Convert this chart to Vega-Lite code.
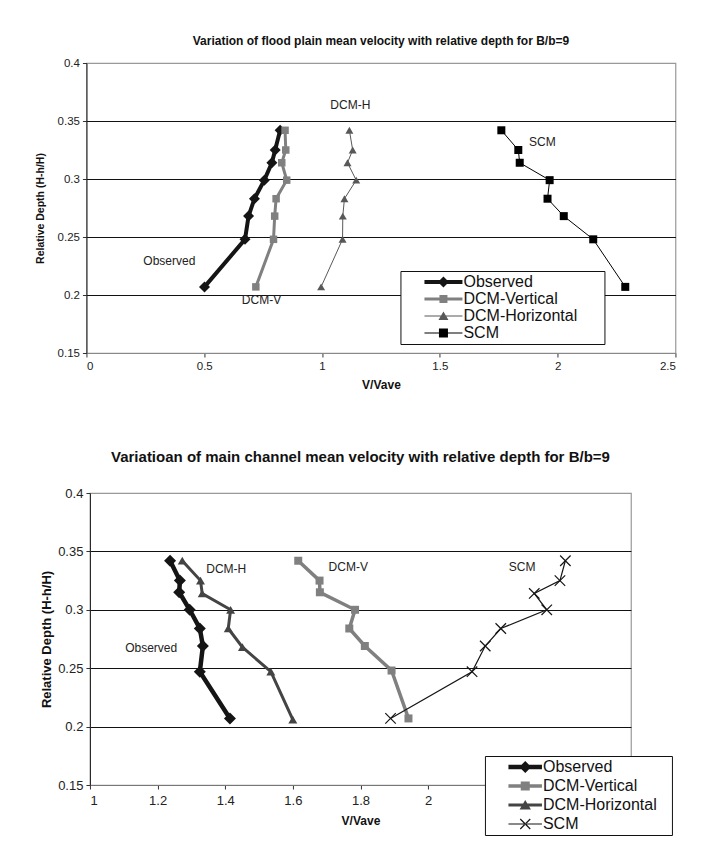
{
  "$schema": "https://vega.github.io/schema/vega-lite/v6.json",
  "padding": {"top": 34, "left": 34, "right": 5, "bottom": 5},
  "background": "white",
  "center": true,
  "spacing": 57,
  "resolve": {
    "scale": {"color": "independent", "fill": "independent", "stroke": "independent", "shape": "independent", "size": "independent", "strokeWidth": "independent"},
    "legend": {"color": "independent", "fill": "independent", "stroke": "independent", "shape": "independent", "size": "independent", "strokeWidth": "independent"}
  },
  "config": {
    "view": {"stroke": "#999999", "strokeWidth": 1.2},
    "axis": {"labelFont": "Liberation Sans", "titleFont": "Liberation Sans", "labelColor": "#222", "titleColor": "#111", "tickColor": "#333", "domainColor": "#333", "grid": false},
    "text": {"font": "Liberation Sans"}
  },
  "datasets": {
    "top": [
      {"series": "Observed", "v": 0.822, "d": 0.342},
      {"series": "Observed", "v": 0.801, "d": 0.325},
      {"series": "Observed", "v": 0.787, "d": 0.314},
      {"series": "Observed", "v": 0.755, "d": 0.299},
      {"series": "Observed", "v": 0.713, "d": 0.283},
      {"series": "Observed", "v": 0.688, "d": 0.268},
      {"series": "Observed", "v": 0.673, "d": 0.248},
      {"series": "Observed", "v": 0.501, "d": 0.207},
      {"series": "DCM-Vertical", "v": 0.843, "d": 0.342},
      {"series": "DCM-Vertical", "v": 0.846, "d": 0.325},
      {"series": "DCM-Vertical", "v": 0.829, "d": 0.314},
      {"series": "DCM-Vertical", "v": 0.850, "d": 0.299},
      {"series": "DCM-Vertical", "v": 0.805, "d": 0.283},
      {"series": "DCM-Vertical", "v": 0.799, "d": 0.268},
      {"series": "DCM-Vertical", "v": 0.794, "d": 0.248},
      {"series": "DCM-Vertical", "v": 0.719, "d": 0.207},
      {"series": "DCM-Horizontal", "v": 1.116, "d": 0.342},
      {"series": "DCM-Horizontal", "v": 1.130, "d": 0.325},
      {"series": "DCM-Horizontal", "v": 1.108, "d": 0.314},
      {"series": "DCM-Horizontal", "v": 1.145, "d": 0.299},
      {"series": "DCM-Horizontal", "v": 1.095, "d": 0.283},
      {"series": "DCM-Horizontal", "v": 1.088, "d": 0.268},
      {"series": "DCM-Horizontal", "v": 1.087, "d": 0.248},
      {"series": "DCM-Horizontal", "v": 0.996, "d": 0.207},
      {"series": "SCM", "v": 1.761, "d": 0.342},
      {"series": "SCM", "v": 1.833, "d": 0.325},
      {"series": "SCM", "v": 1.839, "d": 0.314},
      {"series": "SCM", "v": 1.966, "d": 0.299},
      {"series": "SCM", "v": 1.957, "d": 0.283},
      {"series": "SCM", "v": 2.026, "d": 0.268},
      {"series": "SCM", "v": 2.151, "d": 0.248},
      {"series": "SCM", "v": 2.287, "d": 0.207}
    ],
    "bottom": [
      {"series": "Observed", "v": 1.237, "d": 0.342},
      {"series": "Observed", "v": 1.266, "d": 0.325},
      {"series": "Observed", "v": 1.264, "d": 0.315},
      {"series": "Observed", "v": 1.295, "d": 0.300},
      {"series": "Observed", "v": 1.325, "d": 0.284},
      {"series": "Observed", "v": 1.334, "d": 0.269},
      {"series": "Observed", "v": 1.325, "d": 0.247},
      {"series": "Observed", "v": 1.414, "d": 0.207},
      {"series": "DCM-Vertical", "v": 1.616, "d": 0.342},
      {"series": "DCM-Vertical", "v": 1.679, "d": 0.325},
      {"series": "DCM-Vertical", "v": 1.680, "d": 0.315},
      {"series": "DCM-Vertical", "v": 1.784, "d": 0.300},
      {"series": "DCM-Vertical", "v": 1.767, "d": 0.284},
      {"series": "DCM-Vertical", "v": 1.813, "d": 0.269},
      {"series": "DCM-Vertical", "v": 1.892, "d": 0.248},
      {"series": "DCM-Vertical", "v": 1.942, "d": 0.207},
      {"series": "DCM-Horizontal", "v": 1.273, "d": 0.342},
      {"series": "DCM-Horizontal", "v": 1.327, "d": 0.325},
      {"series": "DCM-Horizontal", "v": 1.332, "d": 0.314},
      {"series": "DCM-Horizontal", "v": 1.416, "d": 0.300},
      {"series": "DCM-Horizontal", "v": 1.409, "d": 0.284},
      {"series": "DCM-Horizontal", "v": 1.451, "d": 0.268},
      {"series": "DCM-Horizontal", "v": 1.535, "d": 0.247},
      {"series": "DCM-Horizontal", "v": 1.600, "d": 0.206},
      {"series": "SCM", "v": 2.406, "d": 0.342},
      {"series": "SCM", "v": 2.390, "d": 0.325},
      {"series": "SCM", "v": 2.314, "d": 0.314},
      {"series": "SCM", "v": 2.351, "d": 0.300},
      {"series": "SCM", "v": 2.215, "d": 0.284},
      {"series": "SCM", "v": 2.169, "d": 0.269},
      {"series": "SCM", "v": 2.130, "d": 0.247},
      {"series": "SCM", "v": 1.889, "d": 0.207}
    ],
    "topNotes": [
      {"label": "DCM-H", "v": 1.12, "d": 0.364},
      {"label": "SCM", "v": 1.935, "d": 0.332},
      {"label": "Observed", "v": 0.352, "d": 0.229},
      {"label": "DCM-V", "v": 0.743, "d": 0.1954}
    ],
    "bottomNotes": [
      {"label": "DCM-H", "v": 1.403, "d": 0.335},
      {"label": "DCM-V", "v": 1.764, "d": 0.3365},
      {"label": "SCM", "v": 2.278, "d": 0.3365},
      {"label": "Observed", "v": 1.181, "d": 0.267}
    ]
  },
  "vconcat": [
    {
      "title": {"text": "Variation of flood plain mean velocity with relative depth for B/b=9", "font": "Liberation Sans", "fontSize": 12, "fontWeight": "bold", "color": "#111", "offset": 9, "anchor": "middle"},
      "width": 589,
      "height": 290,
      "resolve": {"scale": {"stroke": "independent", "strokeWidth": "independent"}, "legend": {"stroke": "independent", "strokeWidth": "independent"}},
      "layer": [
        {
          "data": {"name": "top"},
          "mark": {"type": "line", "strokeJoin": "miter"},
          "encoding": {
            "x": {"field": "v", "type": "quantitative", "scale": {"domain": [0, 2.5], "nice": false, "zero": false},
                  "axis": {"title": "V/Vave", "values": [0, 0.5, 1, 1.5, 2, 2.5], "format": "~g", "labelFontSize": 11.5, "titleFontSize": 12, "titleFontWeight": "bold", "tickSize": 4, "labelPadding": 3, "titlePadding": 8, "domainColor": "#888"}},
            "y": {"field": "d", "type": "quantitative", "scale": {"domain": [0.15, 0.4], "nice": false, "zero": false},
                  "axis": {"title": "Relative Depth (H-h/H)", "values": [0.15, 0.2, 0.25, 0.3, 0.35, 0.4], "format": ".2~f", "labelFontSize": 11.5, "titleFontSize": 10.5, "titleFontWeight": "bold", "tickSize": 4, "labelPadding": 3, "titlePadding": 12, "domainColor": "#222",
                           "grid": true, "gridColor": {"condition": {"test": "datum.value < 0.16 || datum.value > 0.39", "value": "transparent"}, "value": "#111"}, "gridOpacity": 1}},
            "order": {"field": "d", "type": "quantitative"},
            "stroke": {"field": "series", "type": "nominal", "scale": {"domain": ["Observed", "DCM-Vertical", "DCM-Horizontal", "SCM"], "range": ["#151515", "#808080", "#585858", "#000000"]}, "legend": null},
            "strokeWidth": {"field": "series", "type": "nominal", "scale": {"type": "ordinal", "domain": ["Observed", "DCM-Vertical", "DCM-Horizontal", "SCM"], "range": [4, 3, 1, 1]}, "legend": null}
          }
        },
        {
          "data": {"name": "top"},
          "transform": [{"filter": "datum.series === 'Observed'"}],
          "mark": {"type": "point", "shape": "diamond", "filled": true, "opacity": 1, "color": "#151515", "size": 121},
          "encoding": {"x": {"field": "v", "type": "quantitative"}, "y": {"field": "d", "type": "quantitative"}}
        },
        {
          "data": {"name": "top"},
          "transform": [{"filter": "datum.series === 'DCM-Vertical'"}],
          "mark": {"type": "point", "shape": "square", "filled": true, "opacity": 1, "color": "#808080", "size": 56},
          "encoding": {"x": {"field": "v", "type": "quantitative"}, "y": {"field": "d", "type": "quantitative"}}
        },
        {
          "data": {"name": "top"},
          "transform": [{"filter": "datum.series === 'DCM-Horizontal'"}],
          "mark": {"type": "point", "shape": "triangle-up", "filled": true, "opacity": 1, "color": "#585858", "size": 64},
          "encoding": {"x": {"field": "v", "type": "quantitative"}, "y": {"field": "d", "type": "quantitative"}}
        },
        {
          "data": {"name": "top"},
          "transform": [{"filter": "datum.series === 'SCM'"}],
          "mark": {"type": "point", "shape": "square", "filled": true, "opacity": 1, "color": "#000000", "size": 64},
          "encoding": {"x": {"field": "v", "type": "quantitative"}, "y": {"field": "d", "type": "quantitative"}}
        },
        {
          "data": {"name": "top"},
          "mark": {"type": "point", "filled": true, "opacity": 1, "size": 0, "strokeWidth": 0},
          "encoding": {
            "x": {"field": "v", "type": "quantitative"},
            "y": {"field": "d", "type": "quantitative"},
            "color": {"field": "series", "type": "nominal", "scale": {"domain": ["Observed", "DCM-Vertical", "DCM-Horizontal", "SCM"], "range": ["#151515", "#808080", "#585858", "#000000"]},
                      "legend": {"title": null, "orient": "none", "legendX": 314, "legendY": 208, "strokeColor": "#111", "fillColor": "white", "padding": 3, "rowPadding": 1, "labelFont": "Liberation Sans", "labelFontSize": 16, "labelColor": "#111", "labelOffset": 44, "labelExpr": "datum.label + '\u2800\u2800'", "symbolSize": 100, "symbolOpacity": 1, "symbolStrokeWidth": 0}},
            "shape": {"field": "series", "type": "nominal", "scale": {"domain": ["Observed", "DCM-Vertical", "DCM-Horizontal", "SCM"], "range": ["M2.6,-0.4H10.2V0.4H2.6ZM6.4,-1.1L7.5,0L6.4,1.1L5.3,0Z", "M2.6,-0.3H10.2V0.3H2.6ZM5.6,-0.8H7.2V0.8H5.6Z", "M2.6,-0.1H10.2V0.1H2.6ZM6.4,-0.9L7.4,0.8H5.4Z", "M2.6,-0.1H10.2V0.1H2.6ZM5.5,-0.9H7.3V0.9H5.5Z"]}, "legend": null}
          }
        },
        {
          "data": {"name": "topNotes"},
          "mark": {"type": "text", "font": "Liberation Sans", "fontSize": 12, "color": "#222", "align": "center", "baseline": "middle"},
          "encoding": {
            "x": {"field": "v", "type": "quantitative"},
            "y": {"field": "d", "type": "quantitative"},
            "text": {"field": "label"}
          }
        }
      ]
    },
    {
      "title": {"text": "Variatioan of main channel mean velocity with relative depth for B/b=9", "font": "Liberation Sans", "fontSize": 15, "fontWeight": "bold", "color": "#111", "offset": 22, "anchor": "middle"},
      "width": 541,
      "height": 292,
      "resolve": {"scale": {"stroke": "independent", "strokeWidth": "independent"}, "legend": {"stroke": "independent", "strokeWidth": "independent"}},
      "layer": [
        {
          "data": {"name": "bottom"},
          "mark": {"type": "line", "strokeJoin": "miter"},
          "encoding": {
            "x": {"field": "v", "type": "quantitative", "scale": {"domain": [1, 2.6], "nice": false, "zero": false},
                  "axis": {"title": "V/Vave", "values": [1, 1.2, 1.4, 1.6, 1.8, 2], "format": "~g", "labelFontSize": 13, "titleFontSize": 12, "titleFontWeight": "bold", "tickSize": 4, "labelPadding": 5, "titlePadding": 8, "domainColor": "#777"}},
            "y": {"field": "d", "type": "quantitative", "scale": {"domain": [0.15, 0.4], "nice": false, "zero": false},
                  "axis": {"title": "Relative Depth (H-h/H)", "values": [0.15, 0.2, 0.25, 0.3, 0.35, 0.4], "format": ".2~f", "labelFontSize": 13, "titleFontSize": 13, "titleFontWeight": "bold", "tickSize": 4, "labelPadding": 3, "titlePadding": 4, "domainColor": "#222",
                           "grid": true, "gridColor": {"condition": {"test": "datum.value < 0.16 || datum.value > 0.39", "value": "transparent"}, "value": "#111"}, "gridOpacity": 1}},
            "order": {"field": "d", "type": "quantitative"},
            "stroke": {"field": "series", "type": "nominal", "scale": {"domain": ["Observed", "DCM-Vertical", "DCM-Horizontal", "SCM"], "range": ["#151515", "#808080", "#444444", "#151515"]}, "legend": null},
            "strokeWidth": {"field": "series", "type": "nominal", "scale": {"type": "ordinal", "domain": ["Observed", "DCM-Vertical", "DCM-Horizontal", "SCM"], "range": [4.5, 3.5, 3, 1.2]}, "legend": null}
          }
        },
        {
          "data": {"name": "bottom"},
          "transform": [{"filter": "datum.series === 'Observed'"}],
          "mark": {"type": "point", "shape": "diamond", "filled": true, "opacity": 1, "color": "#151515", "size": 144},
          "encoding": {"x": {"field": "v", "type": "quantitative"}, "y": {"field": "d", "type": "quantitative"}}
        },
        {
          "data": {"name": "bottom"},
          "transform": [{"filter": "datum.series === 'DCM-Vertical'"}],
          "mark": {"type": "point", "shape": "square", "filled": true, "opacity": 1, "color": "#808080", "size": 64},
          "encoding": {"x": {"field": "v", "type": "quantitative"}, "y": {"field": "d", "type": "quantitative"}}
        },
        {
          "data": {"name": "bottom"},
          "transform": [{"filter": "datum.series === 'DCM-Horizontal'"}],
          "mark": {"type": "point", "shape": "triangle-up", "filled": true, "opacity": 1, "color": "#444444", "size": 80},
          "encoding": {"x": {"field": "v", "type": "quantitative"}, "y": {"field": "d", "type": "quantitative"}}
        },
        {
          "data": {"name": "bottom"},
          "transform": [{"filter": "datum.series === 'SCM'"}],
          "mark": {"type": "point", "shape": "M-1,-1L1,1M-1,1L1,-1", "filled": false, "opacity": 1, "color": "#151515", "strokeWidth": 1.2, "size": 110},
          "encoding": {"x": {"field": "v", "type": "quantitative"}, "y": {"field": "d", "type": "quantitative"}}
        },
        {
          "data": {"name": "bottom"},
          "mark": {"type": "point", "filled": true, "opacity": 1, "size": 0, "strokeWidth": 0},
          "encoding": {
            "x": {"field": "v", "type": "quantitative"},
            "y": {"field": "d", "type": "quantitative"},
            "color": {"field": "series", "type": "nominal", "scale": {"domain": ["Observed", "DCM-Vertical", "DCM-Horizontal", "SCM"], "range": ["#151515", "#808080", "#444444", "#151515"]},
                      "legend": {"title": null, "orient": "none", "legendX": 395, "legendY": 263, "strokeColor": "#111", "fillColor": "white", "padding": 3, "rowPadding": 3, "labelFont": "Liberation Sans", "labelFontSize": 16, "labelColor": "#111", "labelOffset": 39, "labelExpr": "datum.label + '\u2800'", "symbolSize": 100, "symbolOpacity": 1, "symbolStrokeWidth": 0}},
            "shape": {"field": "series", "type": "nominal", "scale": {"domain": ["Observed", "DCM-Vertical", "DCM-Horizontal", "SCM"], "range": ["M2.5,-0.45H9.2V0.45H2.5ZM5.86,-1.2L7.06,0L5.86,1.2L4.66,0Z", "M2.5,-0.35H9.2V0.35H2.5ZM4.96,-0.9H6.76V0.9H4.96Z", "M2.5,-0.3H9.2V0.3H2.5ZM5.86,-1L7,0.9H4.72Z", "M2.5,-0.12H9.2V0.12H2.5ZM4.945,-1.085L6.945,0.915L6.775,1.085L4.775,-0.915ZM4.945,1.085L6.945,-0.915L6.775,-1.085L4.775,0.915Z"]}, "legend": null}
          }
        },
        {
          "data": {"name": "bottomNotes"},
          "mark": {"type": "text", "font": "Liberation Sans", "fontSize": 12, "color": "#222", "align": "center", "baseline": "middle"},
          "encoding": {
            "x": {"field": "v", "type": "quantitative"},
            "y": {"field": "d", "type": "quantitative"},
            "text": {"field": "label"}
          }
        }
      ]
    }
  ]
}
